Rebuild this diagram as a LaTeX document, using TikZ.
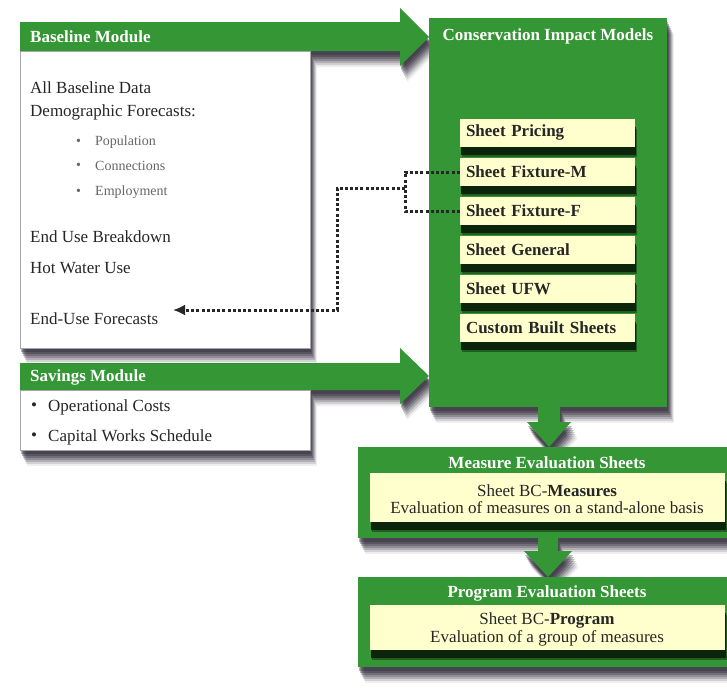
\documentclass[tikz,border=0pt]{standalone}
\usepackage{fontspec}
\setmainfont{Liberation Serif}
\usetikzlibrary{shadows,arrows.meta}
\definecolor{grn}{RGB}{52,150,52}
\definecolor{cream}{RGB}{255,255,206}
\definecolor{shd}{RGB}{45,40,55}
\tikzset{
  gshadow/.style={
    general shadow={fill=shd, opacity=0.35, shadow xshift=1pt, shadow yshift=-4pt},
    general shadow={fill=shd, opacity=0.35, shadow xshift=2pt, shadow yshift=-6pt},
    general shadow={fill=shd, opacity=0.3, shadow xshift=3pt, shadow yshift=-8pt},
    general shadow={fill=shd, opacity=0.25, shadow xshift=4pt, shadow yshift=-10pt},
    general shadow={fill=shd, opacity=0.2, shadow xshift=5pt, shadow yshift=-12pt},
    general shadow={fill=shd, opacity=0.14, shadow xshift=6pt, shadow yshift=-14pt},
    general shadow={fill=shd, opacity=0.08, shadow xshift=7pt, shadow yshift=-16pt}},
  darkshadow/.style={
    general shadow={fill=black!80!grn, opacity=0.9, shadow xshift=1pt, shadow yshift=-8pt},
    general shadow={fill=black!80!grn, opacity=0.45, shadow xshift=2pt, shadow yshift=-10pt}},
  greenshape/.style={fill=grn, draw=none, gshadow},
  whitebox/.style={fill=white, draw=gray!70, line width=0.8pt, inner sep=0pt, gshadow},
  greenbox/.style={fill=grn, draw=none, inner sep=0pt, gshadow},
  creambox/.style={fill=cream, inner sep=0pt, darkshadow},
  sheetbox/.style={fill=cream, inner xsep=6pt, inner ysep=0pt, minimum width=175pt, minimum height=28pt, text width=163pt,
    align=left, font=\bfseries\fontsize{17}{19}\selectfont, text=black!85, darkshadow},
  txt/.style={inner sep=0pt, anchor=west, font=\fontsize{17}{19}\selectfont, text=black!85},
  smalltxt/.style={inner sep=0pt, anchor=west, font=\fontsize{14}{16}\selectfont, text=black!60},
  titletxt/.style={inner sep=0pt, font=\bfseries\fontsize{17}{19}\selectfont, text=white},
  ctxt/.style={inner sep=0pt, font=\fontsize{17}{18}\selectfont, text=black!85},
  dotline/.style={dash pattern=on 3pt off 2.2pt, line width=3pt, black!85},
}
\begin{document}
\begin{tikzpicture}[x=1pt, y=-1pt]
\useasboundingbox (0,0) rectangle (727,691);
\fill[white] (0,0) rectangle (727,691);

% header arrows
\path[greenshape] (20,22) -- (400,22) -- (400,8) -- (429,37) -- (400,66) -- (400,51) -- (20,51) -- cycle;
\path[greenshape] (20,363) -- (400,363) -- (400,348) -- (429,376) -- (400,404) -- (400,390) -- (20,390) -- cycle;

% white module boxes
\node[whitebox, anchor=north west, minimum width=290pt, minimum height=297pt] (base) at (20,51) {};
\node[whitebox, anchor=north west, minimum width=290pt, minimum height=60pt] (sav) at (20,390) {};

\node[titletxt, anchor=west] (basetitle) at (30,37) {Baseline Module};
\node[titletxt, anchor=west] (savtitle) at (30,377) {Savings Module};

% baseline texts
\node[txt] (t1) at (30,88) {All Baseline Data};
\node[txt] (t2) at (30,112) {Demographic Forecasts:};
\node[smalltxt] (b1) at (76,142) {•};
\node[smalltxt] (p1) at (95,142) {Population};
\node[smalltxt] (b2) at (76,166) {•};
\node[smalltxt] (p2) at (95,166) {Connections};
\node[smalltxt] (b3) at (76,192) {•};
\node[smalltxt] (p3) at (95,192) {Employment};
\node[txt] (t3) at (30,237) {End Use Breakdown};
\node[txt] (t4) at (30,268) {Hot Water Use};
\node[txt] (eu) at (30,319) {End-Use Forecasts};

% savings texts
\node[txt] (sb1) at (31,407) {•};
\node[txt] (s1t) at (48,407) {Operational Costs};
\node[txt] (sb2) at (31,437) {•};
\node[txt] (s2t) at (48,437) {Capital Works Schedule};

% conservation impact models
\node[greenbox, anchor=north west, minimum width=238pt, minimum height=389pt] (cim) at (429,18) {};
\node[titletxt] (cimtitle) at (548,36) {Conservation Impact Models};
\node[sheetbox] (sp) at (547.5,132.5) {Sheet Pricing};
\node[sheetbox] (sm) at (547.5,172) {Sheet Fixture-M};
\node[sheetbox] (sf) at (547.5,211) {Sheet Fixture-F};
\node[sheetbox] (sg) at (547.5,250) {Sheet General};
\node[sheetbox] (su) at (547.5,289) {Sheet UFW};
\node[sheetbox] (sc) at (547.5,327.5) {Custom Built Sheets};

% down arrow 1
\path[greenshape] (538,407) -- (560,407) -- (560,422) -- (571,422) -- (549,447) -- (527,422) -- (538,422) -- cycle;

% measure evaluation
\node[greenbox, anchor=north west, minimum width=378pt, minimum height=91pt] (meas) at (358,447) {};
\node[titletxt] (meastitle) at (547,463) {Measure Evaluation Sheets};
\node[creambox, anchor=north west, minimum width=355pt, minimum height=49pt] (mc) at (370,473) {};
\node[ctxt] (mc1) at (547,491) {Sheet BC-\textbf{Measures}};
\node[ctxt] (mc2) at (547,508) {Evaluation of measures on a stand-alone basis};

% down arrow 2
\path[greenshape] (538,538) -- (558,538) -- (558,551) -- (572,551) -- (548,577) -- (524,551) -- (538,551) -- cycle;

% program evaluation
\node[greenbox, anchor=north west, minimum width=378pt, minimum height=90pt] (prog) at (358,577) {};
\node[titletxt] (progtitle) at (547,593) {Program Evaluation Sheets};
\node[creambox, anchor=north west, minimum width=355pt, minimum height=45pt] (pc) at (370,605) {};
\node[ctxt] (pc1) at (547,620) {Sheet BC-\textbf{Program}};
\node[ctxt] (pc2) at (547,638) {Evaluation of a group of measures};

% dotted connector
\coordinate (br) at (405,188);
\coordinate (tip) at (173,310);
\draw[dotline] (sm.west) -- (405,172) -- (405,211) -- (sf.west);
\draw[dotline, -{Latex[length=12pt,width=11pt]}] (br) -- (337,188) -- (337,310) -- (tip);
\end{tikzpicture}
\end{document}
